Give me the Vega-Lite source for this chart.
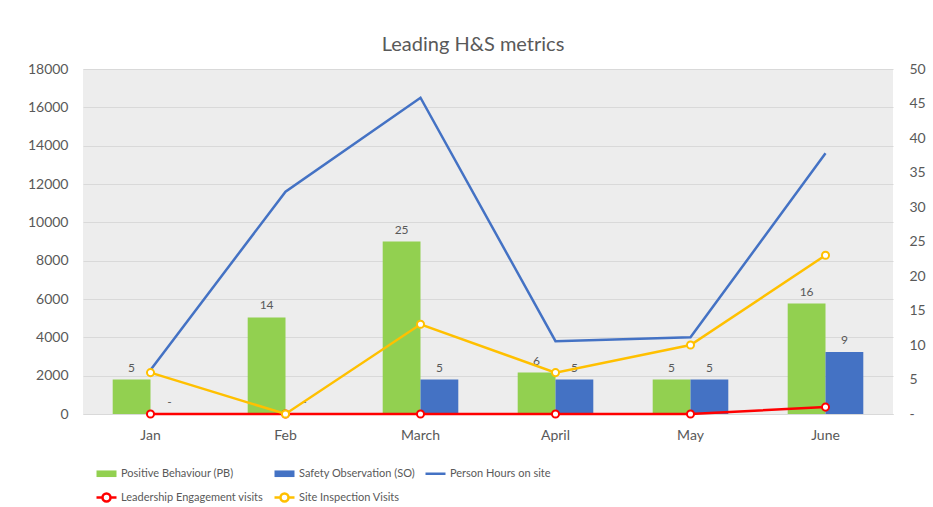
{
  "$schema": "https://vega.github.io/schema/vega-lite/v6.json",
  "width": 810,
  "height": 345,
  "padding": {"left": 27, "top": 35, "right": 5, "bottom": 5},
  "background": "white",
  "title": {
    "text": "Leading H&S metrics",
    "font": "Lato",
    "fontSize": 20,
    "fontWeight": "normal",
    "color": "#595959",
    "anchor": "middle",
    "offset": 7,
    "dx": -15
  },
  "config": {
    "view": {"stroke": null, "fill": "#EDEDED"},
    "font": "Lato"
  },
  "data": {
    "values": [
      {"month": "Jan", "series": "Positive Behaviour (PB)", "value": 5},
      {"month": "Feb", "series": "Positive Behaviour (PB)", "value": 14},
      {"month": "March", "series": "Positive Behaviour (PB)", "value": 25},
      {"month": "April", "series": "Positive Behaviour (PB)", "value": 6},
      {"month": "May", "series": "Positive Behaviour (PB)", "value": 5},
      {"month": "June", "series": "Positive Behaviour (PB)", "value": 16},
      {"month": "Jan", "series": "Safety Observation (SO)", "value": 0},
      {"month": "Feb", "series": "Safety Observation (SO)", "value": 0},
      {"month": "March", "series": "Safety Observation (SO)", "value": 5},
      {"month": "April", "series": "Safety Observation (SO)", "value": 5},
      {"month": "May", "series": "Safety Observation (SO)", "value": 5},
      {"month": "June", "series": "Safety Observation (SO)", "value": 9},
      {"month": "Jan", "series": "Person Hours on site", "value": 2300},
      {"month": "Feb", "series": "Person Hours on site", "value": 11600},
      {"month": "March", "series": "Person Hours on site", "value": 16500},
      {"month": "April", "series": "Person Hours on site", "value": 3800},
      {"month": "May", "series": "Person Hours on site", "value": 4000},
      {"month": "June", "series": "Person Hours on site", "value": 13600},
      {"month": "Jan", "series": "Leadership Engagement visits", "value": 0},
      {"month": "Feb", "series": "Leadership Engagement visits", "value": 0},
      {"month": "March", "series": "Leadership Engagement visits", "value": 0},
      {"month": "April", "series": "Leadership Engagement visits", "value": 0},
      {"month": "May", "series": "Leadership Engagement visits", "value": 0},
      {"month": "June", "series": "Leadership Engagement visits", "value": 1},
      {"month": "Jan", "series": "Site Inspection Visits", "value": 6},
      {"month": "Feb", "series": "Site Inspection Visits", "value": 0},
      {"month": "March", "series": "Site Inspection Visits", "value": 13},
      {"month": "April", "series": "Site Inspection Visits", "value": 6},
      {"month": "May", "series": "Site Inspection Visits", "value": 10},
      {"month": "June", "series": "Site Inspection Visits", "value": 23}
    ]
  },
  "encoding": {
    "x": {
      "field": "month",
      "type": "nominal",
      "sort": ["Jan", "Feb", "March", "April", "May", "June"],
      "scale": {"paddingInner": 0.44, "paddingOuter": 0.22},
      "axis": {
        "title": null,
        "labelAngle": 0,
        "labelFontSize": 14,
        "labelColor": "#595959",
        "labelPadding": 14,
        "ticks": false,
        "domain": true,
        "domainColor": "#D9D9D9",
        "domainWidth": 1
      }
    },
    "color": {
      "field": "series",
      "type": "nominal",
      "scale": {
        "domain": ["Positive Behaviour (PB)", "Safety Observation (SO)", "Person Hours on site", "Leadership Engagement visits", "Site Inspection Visits"],
        "range": ["#92D050", "#4472C4", "#4472C4", "#FF0000", "#FFC000"]
      },
      "legend": {
        "title": null,
        "orient": "bottom",
        "direction": "horizontal",
        "columns": 3,
        "gridAlign": "each",
        "columnPadding": 5,
        "rowPadding": 9,
        "padding": 18,
        "labelFontSize": 11,
        "labelColor": "#595959",
        "labelLimit": 300,
        "labelOffset": 9,
        "symbolSize": 400,
        "offset": 8,
        "encode": {
          "symbols": {
            "update": {
              "shape": {"signal": "indexof(['Positive Behaviour (PB)','Safety Observation (SO)'], datum.value) >= 0 ? 'M-1,-0.33H1V0.33H-1Z' : (datum.value === 'Person Hours on site' ? 'M-1,0H1' : 'M-1,0H-0.4M0.4,0A0.4,0.4 0 1 1 -0.4,0A0.4,0.4 0 1 1 0.4,0M0.4,0H1')"},
              "fill": {"signal": "indexof(['Positive Behaviour (PB)','Safety Observation (SO)'], datum.value) >= 0 ? scale('color', datum.value) : '#FFFFFF'"},
              "fillOpacity": {"signal": "indexof(['Positive Behaviour (PB)','Safety Observation (SO)'], datum.value) >= 0 ? 1 : 0"},
              "stroke": {"signal": "scale('color', datum.value)"},
              "strokeWidth": {"signal": "indexof(['Positive Behaviour (PB)','Safety Observation (SO)'], datum.value) >= 0 ? 0 : 2.5"},
              "size": {"value": 400},
              "opacity": {"value": 1}
            }
          }
        }
      }
    }
  },
  "layer": [
    {
      "transform": [{"filter": "datum.series === 'Person Hours on site'"}],
      "mark": {"type": "line", "strokeWidth": 2.5},
      "encoding": {
        "y": {
          "field": "value",
          "type": "quantitative",
          "scale": {"domain": [0, 18000]},
          "axis": {
            "orient": "left",
            "title": null,
            "values": [0, 2000, 4000, 6000, 8000, 10000, 12000, 14000, 16000, 18000],
            "format": "d",
            "labelFontSize": 14,
            "labelColor": "#595959",
            "labelPadding": 15,
            "ticks": false,
            "domain": false,
            "grid": true,
            "gridColor": "#D9D9D9",
            "gridWidth": 1
          }
        }
      }
    },
    {
      "encoding": {
        "y": {
          "field": "value",
          "type": "quantitative",
          "scale": {"domain": [0, 50]},
          "axis": {
            "orient": "right",
            "title": null,
            "values": [0, 5, 10, 15, 20, 25, 30, 35, 40, 45, 50],
            "labelExpr": "datum.value === 0 ? '-' : datum.label",
            "labelFontSize": 14,
            "labelColor": "#595959",
            "labelPadding": 16,
            "ticks": false,
            "domain": false,
            "grid": false
          }
        }
      },
      "layer": [
        {
          "transform": [{"filter": "datum.series === 'Positive Behaviour (PB)' || datum.series === 'Safety Observation (SO)'"}],
          "mark": {"type": "bar"},
          "encoding": {
            "xOffset": {"field": "series", "type": "nominal", "sort": ["Positive Behaviour (PB)", "Safety Observation (SO)"]}
          }
        },
        {
          "transform": [{"filter": "datum.series === 'Positive Behaviour (PB)' || datum.series === 'Safety Observation (SO)'"}],
          "mark": {"type": "text", "baseline": "alphabetic", "dy": -8, "fontSize": 12},
          "encoding": {
            "xOffset": {"field": "series", "type": "nominal", "sort": ["Positive Behaviour (PB)", "Safety Observation (SO)"]},
            "text": {"condition": {"test": "datum.value === 0", "value": "-"}, "field": "value", "type": "quantitative"},
            "color": {"value": "#595959"}
          }
        },
        {
          "transform": [{"filter": "datum.series === 'Leadership Engagement visits'"}],
          "mark": {"type": "line", "strokeWidth": 2.5, "point": {"filled": false, "fill": "white", "size": 50, "strokeWidth": 2}}
        },
        {
          "transform": [{"filter": "datum.series === 'Site Inspection Visits'"}],
          "mark": {"type": "line", "strokeWidth": 2.5, "point": {"filled": false, "fill": "white", "size": 50, "strokeWidth": 2}}
        }
      ]
    }
  ],
  "resolve": {"scale": {"y": "independent"}}
}
